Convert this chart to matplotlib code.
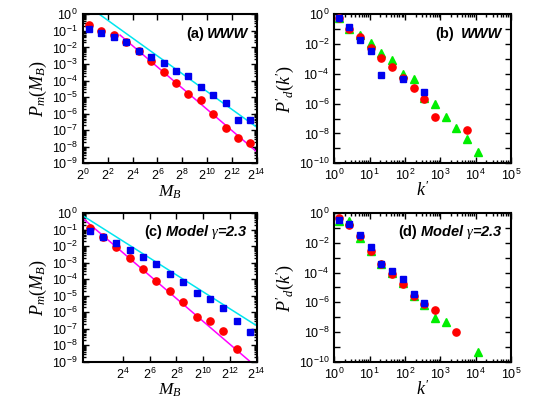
import matplotlib
matplotlib.use("Agg")
import matplotlib.pyplot as plt
from matplotlib.ticker import FixedLocator, NullLocator, FuncFormatter, LogLocator
import numpy as np

plt.rcParams['font.family'] = ['Liberation Sans', 'DejaVu Sans']
plt.rcParams['mathtext.fontset'] = 'custom'
plt.rcParams['mathtext.it'] = 'Liberation Serif:italic'
plt.rcParams['mathtext.rm'] = 'Liberation Serif'

# ---- panel (a): WWW, mass distribution ----
mb_a = [1.41, 2.83, 5.66, 11.3, 22.6, 45.3, 90.5, 181, 362, 724, 1448, 2896, 5793, 11585]
red_a = [0.22, 0.1, 0.054, 0.02, 6.2e-3, 1.5e-3, 3.5e-4, 6.6e-5, 1.5e-5, 6.6e-6,
         9.5e-7, 1.3e-7, 3.4e-8, 1.6e-8]
blue_a = [0.137, 0.072, 0.041, 0.02, 6.5e-3, 2.5e-3, 1.2e-3, 3.9e-4, 1.9e-4, 3.8e-5,
          1.4e-5, 4.6e-6, 3.9e-7, 3.9e-7]
# fitted power laws  C * M^-alpha
fit_cyan_a = (5.28, 1.79)
fit_mag_a = (4.68, 2.13)

# ---- panel (c): model gamma=2.3, mass distribution ----
mb_c_red = [2.83, 5.66, 11.3, 22.6, 45.3, 90.5, 181, 362, 724, 1448, 2896, 5793]
red_c = [0.12, 0.034, 9.3e-3, 1.9e-3, 4.3e-4, 7.9e-5, 1.9e-5, 4.0e-6, 5.4e-7, 3.0e-7,
         7.8e-8, 6.2e-9]
mb_c_blue = [2.83, 5.66, 11.3, 22.6, 45.3, 90.5, 181, 362, 724, 1448, 2896, 5793, 11585]
blue_c = [0.083, 0.034, 0.015, 6.2e-3, 2.1e-3, 7.8e-4, 2.0e-4, 6.6e-5, 1.4e-5, 6.6e-6,
          1.7e-6, 3.0e-7, 6.5e-8]
fit_cyan_c = (2.25, 1.70)
fit_mag_c = (2.35, 2.30)

# ---- panel (b): WWW, degree distribution ----
k_b_blue = [1.35, 2.7, 5.3, 10.7, 21.5, 87, 350]
blue_b = [0.6, 0.14, 0.018, 3.5e-3, 8.6e-5, 4.4e-5, 5.7e-6]
k_b_red = [1.35, 2.7, 5.3, 10.7, 21.5, 43, 87, 175, 350, 700, 5600]
red_b = [0.6, 0.11, 0.028, 5.9e-3, 1.2e-3, 3.0e-4, 5.5e-5, 1.05e-5, 2.2e-6, 1.3e-7, 1.7e-8]
k_b_green = [1.35, 2.7, 5.3, 10.7, 21.5, 43, 87, 175, 350, 700, 1400, 2800, 5600, 11300]
green_b = [0.6, 0.1, 0.044, 0.0126, 2.7e-3, 9.1e-4, 9.5e-5, 4.7e-5, 2.3e-6, 9.3e-7,
           1.3e-7, 2.5e-8, 4.1e-9, 5.5e-10]

# ---- panel (d): model gamma=2.3, degree distribution ----
k_d_red = [1.35, 2.7, 5.3, 10.7, 21.5, 43, 87, 175, 350, 700, 2800]
red_d = [0.47, 0.166, 0.030, 2.7e-3, 3.8e-4, 8.3e-5, 1.6e-5, 2.6e-6, 8.1e-7, 3.0e-7, 1.1e-8]
k_d_blue = [1.35, 2.7, 5.3, 10.7, 21.5, 43, 87, 175, 350]
blue_d = [0.35, 0.18, 0.035, 5.0e-3, 3.8e-4, 1.26e-4, 3.8e-5, 3.8e-6, 8.9e-7]
k_d_green = [1.35, 2.7, 5.3, 10.7, 21.5, 43, 87, 175, 350, 700, 1400, 11300]
green_d = [0.28, 0.29, 0.02, 2.7e-3, 3.8e-4, 9.5e-5, 2.0e-5, 2.6e-6, 6.9e-7, 8.9e-8,
           4.8e-8, 4.7e-10]

RED = '#ff0000'
BLUE = '#0000ee'
GREEN = '#00ee00'
CYAN = '#00e5ee'
MAGENTA = '#ff00ff'

fig = plt.figure(figsize=(5.45, 3.99), dpi=100)
ax_a = fig.add_axes([0.152, 0.591, 0.319, 0.373])
ax_b = fig.add_axes([0.613, 0.591, 0.325, 0.373])
ax_c = fig.add_axes([0.152, 0.093, 0.319, 0.373])
ax_d = fig.add_axes([0.613, 0.093, 0.325, 0.373])

pow10 = FuncFormatter(lambda v, p: r'$\mathregular{10^{%d}}$' % int(round(np.log10(v))))
pow2 = FuncFormatter(lambda v, p: r'$\mathregular{2^{%d}}$' % int(round(np.log2(v))))


def style(ax):
    for s in ax.spines.values():
        s.set_linewidth(1.5)
    ax.tick_params(which='both', direction='in', top=True, right=True, labelsize=9, width=1.0)
    ax.tick_params(which='major', length=4)
    ax.tick_params(which='minor', length=2)


def label(ax, head, name, gap):
    t = ax.text(0.95, 0.87, name, transform=ax.transAxes, ha='right', va='center',
                fontsize=10.5, fontweight='bold', fontstyle='italic')
    ax.annotate(head, xy=(0, 0.5), xycoords=t, xytext=(-gap, 0), textcoords='offset points',
                ha='right', va='center', fontsize=10.5, fontweight='bold')


# mass distribution panels
for ax, xlo in [(ax_a, 2 ** 0), (ax_c, 2 ** 1)]:
    ax.set_xscale('log', base=2)
    ax.set_yscale('log')
    ax.set_xlim(xlo, 2 ** 14)
    ax.set_ylim(1e-9, 1)
    ticks = [2.0 ** n for n in range(0, 15, 2) if 2.0 ** n >= xlo]
    if xlo > 1:
        ticks = ticks[1:]
    ax.xaxis.set_major_locator(FixedLocator(ticks))
    ax.xaxis.set_minor_locator(NullLocator())
    ax.xaxis.set_major_formatter(pow2)
    ax.yaxis.set_major_locator(FixedLocator([10.0 ** e for e in range(-9, 1)]))
    ax.yaxis.set_minor_locator(LogLocator(base=10, subs=np.arange(2, 10), numticks=20))
    ax.yaxis.set_major_formatter(pow10)
    ax.set_xlabel(r'$M_B$', fontsize=12.5, labelpad=0)
    ax.set_ylabel(r'$P_m(M_B)$', fontsize=13, labelpad=2)
    style(ax)

ms = np.logspace(np.log10(2), np.log10(2 ** 14), 50)
c, a = fit_cyan_a
ax_a.plot(ms, c * ms ** -a, color=CYAN, lw=1.1, zorder=2)
mm = np.logspace(np.log10(2 ** 3), np.log10(2 ** 14), 50)
c, a = fit_mag_a
ax_a.plot(mm, c * mm ** -a, color=MAGENTA, lw=1.1, zorder=2)
ax_a.plot(mb_a, red_a, 'o', color=RED, ms=5.2, mec=RED, zorder=3)
ax_a.plot(mb_a, blue_a, 's', color=BLUE, ms=4.3, mec=BLUE, zorder=4)

mc = np.logspace(np.log10(2), np.log10(2 ** 14), 50)
c, a = fit_cyan_c
ax_c.plot(mc, c * mc ** -a, color=CYAN, lw=1.1, zorder=2)
c, a = fit_mag_c
ax_c.plot(mc, c * mc ** -a, color=MAGENTA, lw=1.1, zorder=2)
ax_c.plot(mb_c_red, red_c, 'o', color=RED, ms=5.2, mec=RED, zorder=3)
ax_c.plot(mb_c_blue, blue_c, 's', color=BLUE, ms=4.3, mec=BLUE, zorder=4)

# degree distribution panels
for ax in (ax_b, ax_d):
    ax.set_xscale('log')
    ax.set_yscale('log')
    ax.set_xlim(1, 1e5)
    ax.set_ylim(1e-10, 1)
    ax.xaxis.set_major_locator(FixedLocator([10.0 ** e for e in range(0, 6)]))
    ax.xaxis.set_minor_locator(LogLocator(base=10, subs=np.arange(2, 10), numticks=20))
    ax.xaxis.set_major_formatter(pow10)
    ax.yaxis.set_major_locator(FixedLocator([10.0 ** e for e in range(-10, 1, 2)]))
    ax.yaxis.set_minor_locator(FixedLocator([10.0 ** e for e in range(-9, 0, 2)]))
    ax.yaxis.set_major_formatter(pow10)
    ax.yaxis.set_minor_formatter(FuncFormatter(lambda v, p: ''))
    ax.set_xlabel(r"$k'$", fontsize=13, labelpad=-2)
    ax.set_ylabel(r"$P'_d(k')$", fontsize=13, labelpad=2)
    style(ax)
    ax.tick_params(axis='y', which='minor', length=4)

ax_b.plot(k_b_green, green_b, '^', color=GREEN, ms=5.5, mec=GREEN, zorder=2)
ax_b.plot(k_b_red, red_b, 'o', color=RED, ms=5.2, mec=RED, zorder=3)
ax_b.plot(k_b_blue, blue_b, 's', color=BLUE, ms=4.3, mec=BLUE, zorder=4)

ax_d.plot(k_d_green, green_d, '^', color=GREEN, ms=5.5, mec=GREEN, zorder=2)
ax_d.plot(k_d_red, red_d, 'o', color=RED, ms=5.2, mec=RED, zorder=3)
ax_d.plot(k_d_blue, blue_d, 's', color=BLUE, ms=4.3, mec=BLUE, zorder=4)

label(ax_a, '(a)', 'WWW', 2)
label(ax_b, '(b)', 'WWW', 5)
label(ax_c, '(c)', r'Model $\gamma$=2.3', 2)
label(ax_d, '(d)', r'Model $\gamma$=2.3', 2)

fig.savefig('out.png', dpi=100)
